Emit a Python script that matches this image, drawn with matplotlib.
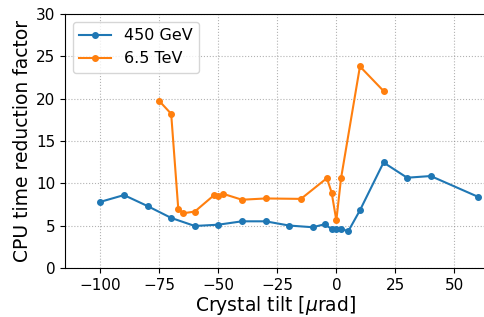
import matplotlib
matplotlib.use('Agg')
import matplotlib.pyplot as plt

# 450 GeV
tilt_450 = [-100, -90, -80, -70, -60, -50, -40, -30, -20, -10, -5, -2, 0, 2, 5, 10, 20, 30, 40, 60]
factor_450 = [7.8, 8.6, 7.3, 5.9, 4.95, 5.1, 5.5, 5.5, 5.0, 4.8, 5.15, 4.6, 4.6, 4.65, 4.3, 6.8, 12.45, 10.65, 10.85, 8.4]

# 6.5 TeV
tilt_65 = [-75, -70, -67, -65, -60, -52, -50, -48, -40, -30, -15, -4, -2, 0, 2, 10, 20]
factor_65 = [19.7, 18.2, 7.0, 6.45, 6.65, 8.55, 8.45, 8.75, 8.05, 8.2, 8.15, 10.6, 8.9, 5.6, 10.6, 23.8, 20.9]

fig = plt.figure(figsize=(4.85, 3.17), dpi=100)
ax = fig.add_axes([0.134, 0.155, 0.866, 0.801])

ax.plot(tilt_450, factor_450, '-o', color='#1f77b4', markersize=4, label='450 GeV')
ax.plot(tilt_65, factor_65, '-o', color='#ff7f0e', markersize=4, label='6.5 TeV')

ax.set_xlim(-115, 63)
ax.set_ylim(0, 30)
ax.set_xticks([-100, -75, -50, -25, 0, 25, 50])
ax.set_yticks([0, 5, 10, 15, 20, 25, 30])
ax.tick_params(labelsize=11)
ax.grid(True, linestyle=':', color='gray', alpha=0.6)
ax.set_xlabel('Crystal tilt [$\\mu$rad]', fontsize=13.5, labelpad=1)
ax.set_ylabel('CPU time reduction factor', fontsize=13.5, labelpad=3)
ax.legend(loc='upper left', fontsize=11.5)

fig.savefig('out.png', dpi=100)
